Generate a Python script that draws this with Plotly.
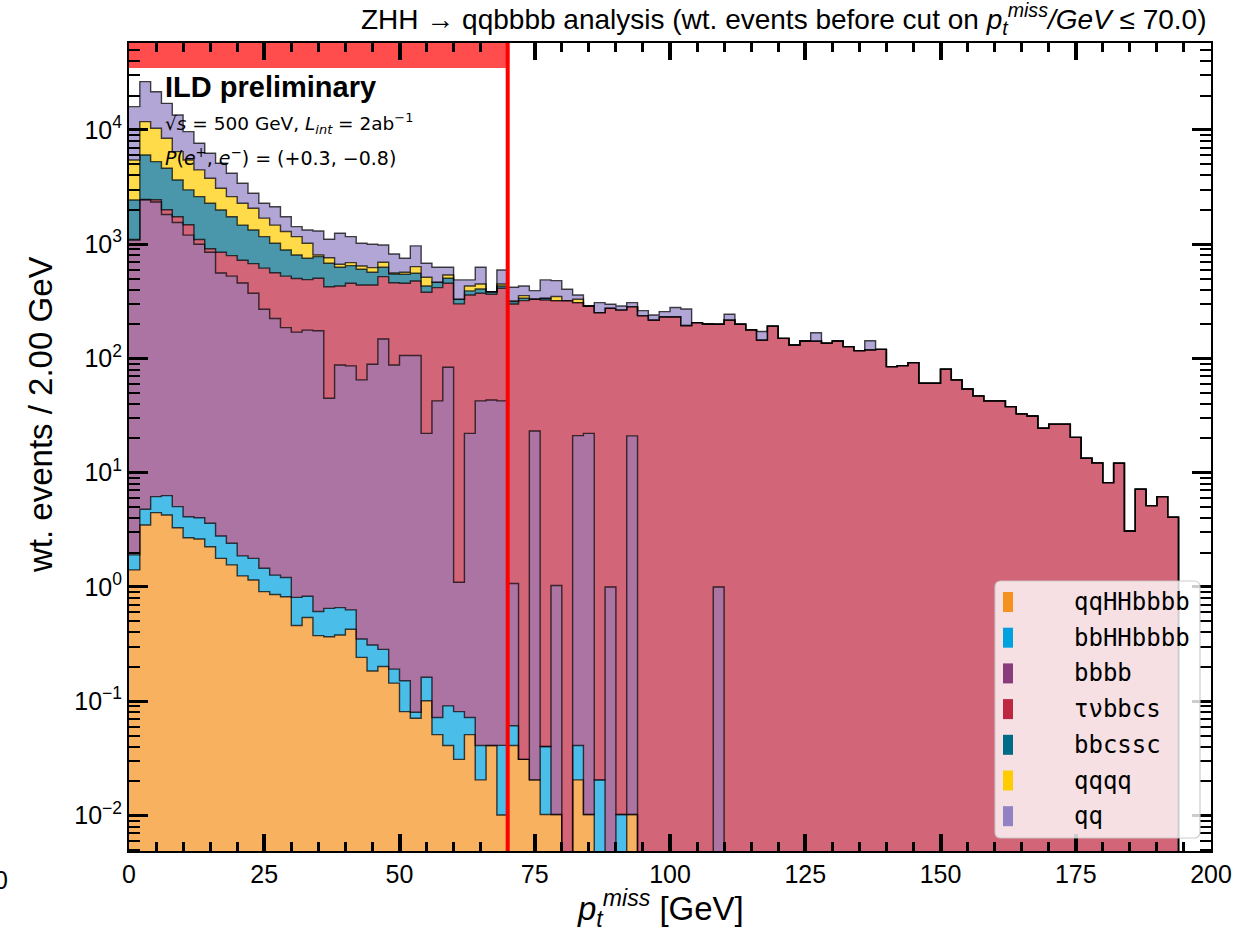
import numpy as np
import plotly.graph_objects as go

# ---------------- data (weighted events per 2 GeV bin) ----------------
bin_edges = list(range(0, 202, 2))          # 0 .. 200 GeV, 100 bins
cut_value = 70.0

processes = ["qqHHbbbb", "bbHHbbbb", "bbbb", "τνbbcs", "bbcssc", "qqqq", "qq"]

qqHHbbbb = [1.41, 3.49, 4.47, 4.27, 3.30, 2.70, 2.63, 2.25, 1.78, 1.56,
            1.25, 1.15, 0.91, 0.86, 0.82, 0.46, 0.54, 0.375, 0.367, 0.38,
            0.426, 0.242, 0.184, 0.201, 0.144, 0.081, 0.071, 0.101, 0.051, 0.041,
            0.031, 0.051, 0.0205, 0.041, 0.0101, 0.041, 0.031, 0.0205, 0.0102, 0.0102,
            0, 0.0205, 0.0102, 0, 0, 0, 0.0102] + [0] * 53

bbHHbbbb = [0.50, 1.30, 1.70, 2.03, 1.75, 1.42, 1.41, 1.36, 1.01, 0.85,
            0.62, 0.63, 0.55, 0.41, 0.39, 0.35, 0.29, 0.235, 0.283, 0.28,
            0.204, 0.108, 0.126, 0.083, 0.047, 0.070, 0.009, 0.061, 0.021, 0.050,
            0.050, 0.021, 0.0205, 0, 0.031, 0.020, 0, 0, 0.030, 0,
            0, 0.0205, 0, 0.0205, 0, 0.0102, 0] + [0] * 53

bbbb = [1088, 2445, 2334, 1814, 1545, 1196, 996, 846, 557, 523,
        455, 370, 268.5, 222.7, 184.8, 169.2, 176.2, 174.4, 44.15, 87.0,
        85.4, 64.55, 88.7, 147.7, 87.5, 105.85, 105.92, 21.94, 42.43, 83.6,
        1.02, 22.03, 42.46, 43.26, 42.46, 1.01, 0, 23.18, 0, 1.02,
        0, 21.06, 22.09, 0, 1.0, 0, 21.0, 0, 0, 0,
        0, 0, 0, 0, 1.0] + [0] * 45

tvbbcs = [10, 10, 110, 180, 190, 280, 100, 62, 291, 269,
          267, 304, 347, 338, 339, 331, 313, 329, 380, 343,
          369, 375, 351, 372, 372, 349, 371, 358, 374.5, 371,
          299, 337, 329.5, 321.7, 368.5, 299, 321, 307.8, 325, 320,
          321, 287, 266, 252, 274, 266, 263, 237, 217, 232,
          232, 194, 206, 200, 198, 217, 199, 178, 145, 192,
          150, 131, 142, 142, 136, 142, 127, 117, 119, 120,
          84.8, 86.5, 91.9, 60.7, 60.7, 80.4, 64.9, 54.1, 47.0, 42.5,
          42.5, 37.9, 32.7, 31.4, 24.5, 26.6, 26.6, 20.4, 13.4, 12.2,
          8.19, 12.1, 3.09, 7.16, 5.15, 6.17, 4.07, 0, 0, 0]

bbcssc = [1340, 3580, 2830, 2620, 1910, 1510, 1510, 1368, 1144, 946,
          746, 657, 547, 457, 366, 304, 263, 274, 256, 198,
          194, 164, 128, 109, 89, 91, 80, 51, 47, 49,
          30, 31, 34, 19, 20, 14, 15, 0, 11, 0] + [0] * 60

qqqq = [3020, 5790, 5070, 3830, 2810, 2470, 1860, 1500, 1095, 870,
        810, 732, 526, 451, 399, 359, 266, 27, 81, 39,
        41, 41, 56, 66, 11, 22, 79, 83, 0, 34,
        0, 41, 43, 0, 18, 4, 19, 0, 0, 27,
        0, 22] + [0] * 58

qq = [10540, 14670, 11250, 8650, 7040, 4200, 3170, 2470, 2020, 1570,
      1140, 725, 590, 660, 450, 261, 314, 501, 343, 579,
      475, 374, 376, 290, 262, 186, 330, 167, 165, 91,
      157, 56, 180, 0, 146, 102, 76, 61, 151, 132,
      82, 29, 0, 56, 23, 22, 24, 25, 23, 25,
      47, 77, 0, 0, 0, 27, 0, 0, 27, 0,
      0, 0, 0, 26, 0, 0, 0, 0, 24, 0] + [0] * 30

series = [qqHHbbbb, bbHHbbbb, bbbb, tvbbcs, bbcssc, qqqq, qq]
colors = ["#F5911E", "#00A3E0", "#893B7C", "#BF2640", "#006B87", "#FFCC00", "#9182C4"]

y_ticks = [1e-2, 1e-1, 1e0, 1e1, 1e2, 1e3, 1e4]
y_ticktext = ["10<sup>−2</sup>", "10<sup>−1</sup>", "10<sup>0</sup>", "10<sup>1</sup>",
              "10<sup>2</sup>", "10<sup>3</sup>", "10<sup>4</sup>"]
x_ticks = [0, 25, 50, 75, 100, 125, 150, 175, 200]

# ---------------- figure ----------------
W, H = 1250, 934
ML, MR, MT, MB = 129, 39, 43, 83
PW, PH = W - ML - MR, H - MT - MB


def px_x(p):
    return (p - ML) / PW


def px_y(p):
    return (H - MB - p) / PH


def rgba(hexc, a):
    hexc = hexc.lstrip("#")
    r, g, b = int(hexc[0:2], 16), int(hexc[2:4], 16), int(hexc[4:6], 16)
    return f"rgba({r},{g},{b},{a})"


FLOOR = 1e-4
edges = np.array(bin_edges, dtype=float)
fig = go.Figure()
# invisible baseline for the bottom fill
fig.add_trace(go.Scatter(x=edges, y=np.full(len(edges), FLOOR), mode="lines",
                         line=dict(width=0, color="rgba(0,0,0,0)"), line_shape="hv",
                         showlegend=False, hoverinfo="skip"))
cum = np.zeros(len(bin_edges) - 1)
for name, vals, col in zip(processes, series, colors):
    cum = cum + np.array(vals, dtype=float)
    yv = np.maximum(cum, FLOOR)
    yv = np.append(yv, yv[-1])
    fig.add_trace(go.Scatter(x=edges, y=yv, mode="lines", line_shape="hv",
                             fill="tonexty", fillcolor=rgba(col, 0.71),
                             line=dict(color="rgba(0,0,0,0.72)", width=1.4),
                             name=name, showlegend=False, hoverinfo="skip"))

ylo, yhi = -2.311, 4.761
tick_font = dict(family="Liberation Sans, Arial, sans-serif", size=25, color="black")
minor_y = [m * 10.0 ** e for e in range(-3, 5) for m in range(2, 10)]
minor_y = [v for v in minor_y if ylo < np.log10(v) < yhi]

fig.update_xaxes(range=[0, 200], tickmode="array", tickvals=x_ticks,
                 ticks="inside", ticklen=17, tickwidth=3.5, tickcolor="black",
                 showline=True, linecolor="black", linewidth=2, mirror="allticks",
                 showgrid=False, zeroline=False, tickfont=tick_font,
                 minor=dict(tickmode="array", tickvals=[v for v in range(5, 200, 5) if v % 25],
                            ticks="inside", ticklen=9, tickwidth=2.5, tickcolor="black",
                            showgrid=False))
fig.update_yaxes(type="log", range=[ylo, yhi], tickmode="array", tickvals=y_ticks,
                 ticktext=y_ticktext, ticks="inside", ticklen=19, tickwidth=3, tickcolor="black",
                 showline=True, linecolor="black", linewidth=2, mirror="allticks",
                 showgrid=False, zeroline=False, tickfont=tick_font,
                 minor=dict(tickmode="array", tickvals=minor_y, ticks="inside", ticklen=11,
                            tickwidth=2.2, tickcolor="black", showgrid=False))

shapes = []
# cut region band at top and cut line
shapes.append(dict(type="rect", xref="x", yref="paper", x0=0, x1=cut_value,
                   y0=px_y(68), y1=1, fillcolor="rgba(255,0,0,0.7)", line=dict(width=0),
                   layer="below"))
shapes.append(dict(type="line", xref="x", yref="paper", x0=cut_value, x1=cut_value, y0=0, y1=1,
                   line=dict(color="#FF0000", width=4), layer="above"))

# legend box (rounded)
bx0, bx1, by0, by1 = px_x(995), px_x(1200), px_y(838), px_y(581)
rx, ry = 6 / PW, 6 / PH
path = (f"M {bx0+rx},{by0} L {bx1-rx},{by0} Q {bx1},{by0} {bx1},{by0+ry} "
        f"L {bx1},{by1-ry} Q {bx1},{by1} {bx1-rx},{by1} L {bx0+rx},{by1} "
        f"Q {bx0},{by1} {bx0},{by1-ry} L {bx0},{by0+ry} Q {bx0},{by0} {bx0+rx},{by0} Z")
shapes.append(dict(type="path", xref="paper", yref="paper", path=path,
                   fillcolor="rgba(255,255,255,0.8)", line=dict(color="rgba(200,200,200,0.9)", width=1.2),
                   layer="above"))

annotations = []
row0, drow = 602, 35.7
for k, (name, col) in enumerate(zip(processes, colors)):
    yc = row0 + k * drow
    shapes.append(dict(type="rect", xref="paper", yref="paper", x0=px_x(1003), x1=px_x(1013),
                       y0=px_y(yc + 10), y1=px_y(yc - 10), fillcolor=col, line=dict(width=0),
                       layer="above"))
    annotations.append(dict(xref="paper", yref="paper", x=px_x(1072), y=px_y(yc), text=name,
                            showarrow=False, xanchor="left", yanchor="middle",
                            font=dict(family="DejaVu Sans Mono, monospace", size=24, color="black")))

annotations += [
    dict(xref="paper", yref="paper", x=px_x(1209), y=px_y(19), xanchor="right", yanchor="middle",
         showarrow=False,
         text="ZHH → qqbbbb analysis (wt. events before cut on <i>p</i><sub><i>t</i></sub><sup><i>miss</i></sup><i>/GeV</i> ≤ 70.0)",
         font=dict(family="Liberation Sans, Arial, sans-serif", size=28, color="black")),
    dict(xref="paper", yref="paper", x=px_x(163), y=px_y(87), xanchor="left", yanchor="middle",
         showarrow=False, text="<b>ILD preliminary</b>",
         font=dict(family="Liberation Sans, Arial, sans-serif", size=29, color="black")),
    dict(xref="paper", yref="paper", x=px_x(163), y=px_y(124), xanchor="left", yanchor="middle",
         showarrow=False, text="√<i>s</i> = 500 GeV, <i>L</i><sub><i>int</i></sub> = 2ab<sup>−1</sup>",
         font=dict(family="DejaVu Sans, sans-serif", size=18.5, color="black")),
    dict(xref="paper", yref="paper", x=px_x(163), y=px_y(157), xanchor="left", yanchor="middle",
         showarrow=False, text="<i>P</i>(<i>e</i><sup>+</sup>, <i>e</i><sup>−</sup>) = (+0.3, −0.8)",
         font=dict(family="DejaVu Sans, sans-serif", size=19, color="black")),
    dict(xref="paper", yref="paper", x=px_x(40), y=px_y(415), xanchor="center", yanchor="middle",
         showarrow=False, textangle=-90, text="wt. events / 2.00 GeV",
         font=dict(family="Liberation Sans, Arial, sans-serif", size=33, color="black")),
    dict(xref="paper", yref="paper", x=px_x(660), y=px_y(908), xanchor="center", yanchor="middle",
         showarrow=False, text="<i>p</i><sub><i>t</i></sub><sup><i>miss</i></sup> [GeV]",
         font=dict(family="Liberation Sans, Arial, sans-serif", size=33, color="black")),
    dict(xref="paper", yref="paper", x=px_x(1), y=px_y(880), xanchor="center", yanchor="middle",
         showarrow=False, text="0",
         font=dict(family="Liberation Sans, Arial, sans-serif", size=25, color="black")),
]

fig.update_layout(width=W, height=H, margin=dict(l=ML, r=MR, t=MT, b=MB, autoexpand=False),
                  paper_bgcolor="white", plot_bgcolor="white", showlegend=False,
                  hovermode=False, shapes=shapes, annotations=annotations)

fig.write_html("out.html", config={"displayModeBar": False},
               post_script="document.body.style.margin='0px';")
